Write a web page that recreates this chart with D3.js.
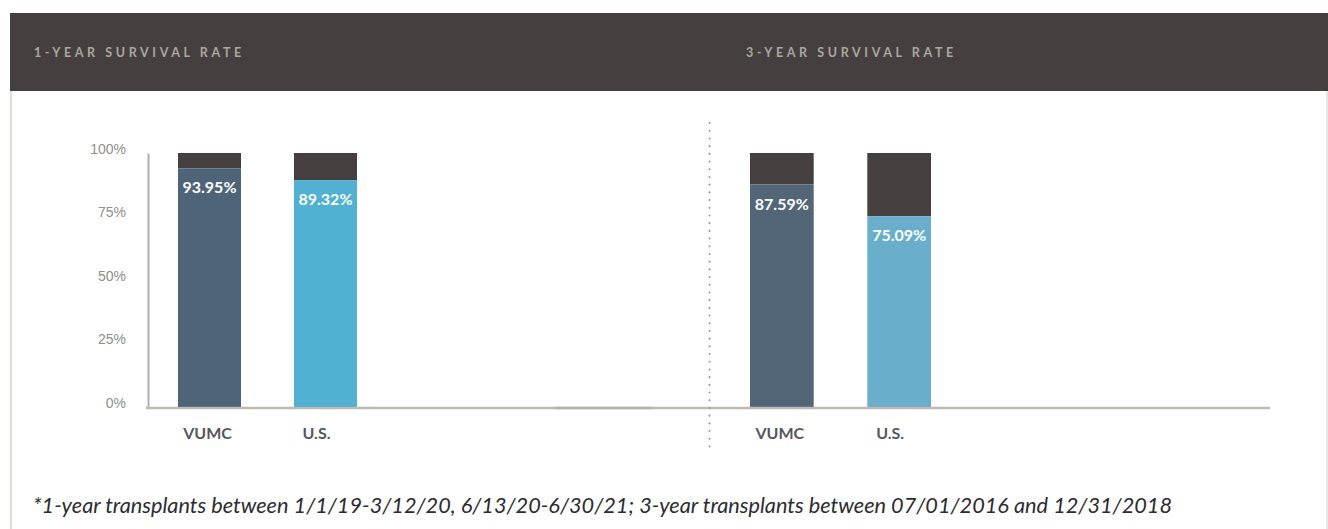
<!DOCTYPE html>
<html lang="en">
<head>
<meta charset="utf-8">
<style>
  body { margin: 0; background: #fff; }
  svg { display: block; font-family: 'Lato', 'Open Sans', sans-serif; }
  .head text { fill: #aaa6a0; font-weight: 700; font-size: 12.5px; letter-spacing: 3.6px; }
  .axis text { fill: #8e8e8e; font-size: 14px; font-weight: 300; }
  .axis path { stroke: #b3afa9; stroke-width: 2px; }
  .cat { fill: #56575c; font-weight: 700; font-size: 16px; text-anchor: middle; }
  .val { fill: #fff; font-weight: 700; font-size: 16px; text-anchor: middle; }
  .note { fill: #2c2c30; font-style: italic; font-weight: 400; font-size: 20.5px; }
</style>
</head>
<body>
<svg width="1328" height="529"></svg>
<script src="https://d3js.org/d3.v7.min.js"></script>
<script>
  // data
  const categories = ["VUMC", "U.S."]
  const oneYear = [93.95, 89.32]
  const threeYear = [87.59, 75.09]
  const yTicks = [0, 25, 50, 75, 100]
  const titles = ["1-YEAR SURVIVAL RATE", "3-YEAR SURVIVAL RATE"]
  const footnote = "*1-year transplants between 1/1/19-3/12/20, 6/13/20-6/30/21; 3-year transplants between 07/01/2016 and 12/31/2018"

  const width = 1328, height = 529
  const svg = d3.select("svg")

  // frame
  svg.append("rect").attr("x", 10).attr("y", 13).attr("width", width - 10).attr("height", 78).attr("fill", "#45403f")
  svg.append("line").attr("x1", 11).attr("x2", 11).attr("y1", 91).attr("y2", height)
    .attr("stroke", "#e2dfdb").attr("stroke-width", 2)
  svg.append("line").attr("x1", 1327).attr("x2", 1327).attr("y1", 91).attr("y2", height)
    .attr("stroke", "#e2dfdb").attr("stroke-width", 1.5)

  const head = svg.append("g").attr("class", "head")
  head.selectAll("text").data(titles).join("text")
    .attr("x", (d, i) => i === 0 ? 34 : 746)
    .attr("y", 57)
    .text(d => d)

  const y = d3.scaleLinear().domain([0, 100]).range([407, 153])

  const yAxis = d3.axisLeft(y).tickValues(yTicks).tickFormat(d => d + "%")
    .tickSize(0).tickPadding(22)
  svg.append("g")
    .attr("class", "axis y")
    .attr("transform", "translate(148,0)")
    .call(yAxis)
    .call(g => g.selectAll("text").attr("dy", "0.02em"))

  const panels = [
    { values: oneYear, range: [178, 357], base: [146, 652], colors: ["#4e6579", "#50b1d3"] },
    { values: threeYear, range: [750, 931], base: [555, 1270], colors: ["#536677", "#69afcc"] }
  ]

  panels.forEach(function (p) {
    const x = d3.scaleBand().domain(categories).range(p.range).paddingInner(0.457).paddingOuter(0)
    const g = svg.append("g").attr("class", "chart")
    const rows = categories.map((c, i) => ({ cat: c, value: p.values[i], color: p.colors[i] }))

    // remaining share (dark cap)
    g.selectAll("rect.cap").data(rows).join("rect")
      .attr("class", "cap")
      .attr("x", d => x(d.cat)).attr("width", x.bandwidth())
      .attr("y", y(100)).attr("height", d => y(d.value) - y(100))
      .attr("fill", "#45403f")

    g.selectAll("rect.bar").data(rows).join("rect")
      .attr("class", "bar")
      .attr("x", d => x(d.cat)).attr("width", x.bandwidth())
      .attr("y", d => y(d.value)).attr("height", d => y(0) - y(d.value))
      .attr("fill", d => d.color)

    g.selectAll("text.val").data(rows).join("text")
      .attr("class", "val")
      .attr("x", d => x(d.cat) + x.bandwidth() / 2)
      .attr("y", d => y(d.value) + 25)
      .text(d => d.value.toFixed(2) + "%")

    g.selectAll("text.cat").data(rows).join("text")
      .attr("class", "cat")
      .attr("x", d => x(d.cat) + x.bandwidth() / 2 - (d.cat === "U.S." ? 9 : 2))
      .attr("y", 439)
      .text(d => d.cat)

    g.append("line")
      .attr("x1", p.base[0]).attr("x2", p.base[1])
      .attr("y1", y(0) + 1).attr("y2", y(0) + 1)
      .attr("stroke", "#b3afa9").attr("stroke-opacity", 0.85).attr("stroke-width", 2.5)
  })

  // dotted divider
  svg.append("line")
    .attr("x1", 709.5).attr("x2", 709.5).attr("y1", 123).attr("y2", 451)
    .attr("stroke", "#9a9793").attr("stroke-width", 2)
    .attr("stroke-linecap", "round").attr("stroke-dasharray", "0.1,7.6")

  svg.append("text").attr("class", "note")
    .attr("x", 33).attr("y", 513)
    .attr("textLength", 1139).attr("lengthAdjust", "spacingAndGlyphs")
    .text(footnote)
</script>
</body>
</html>
